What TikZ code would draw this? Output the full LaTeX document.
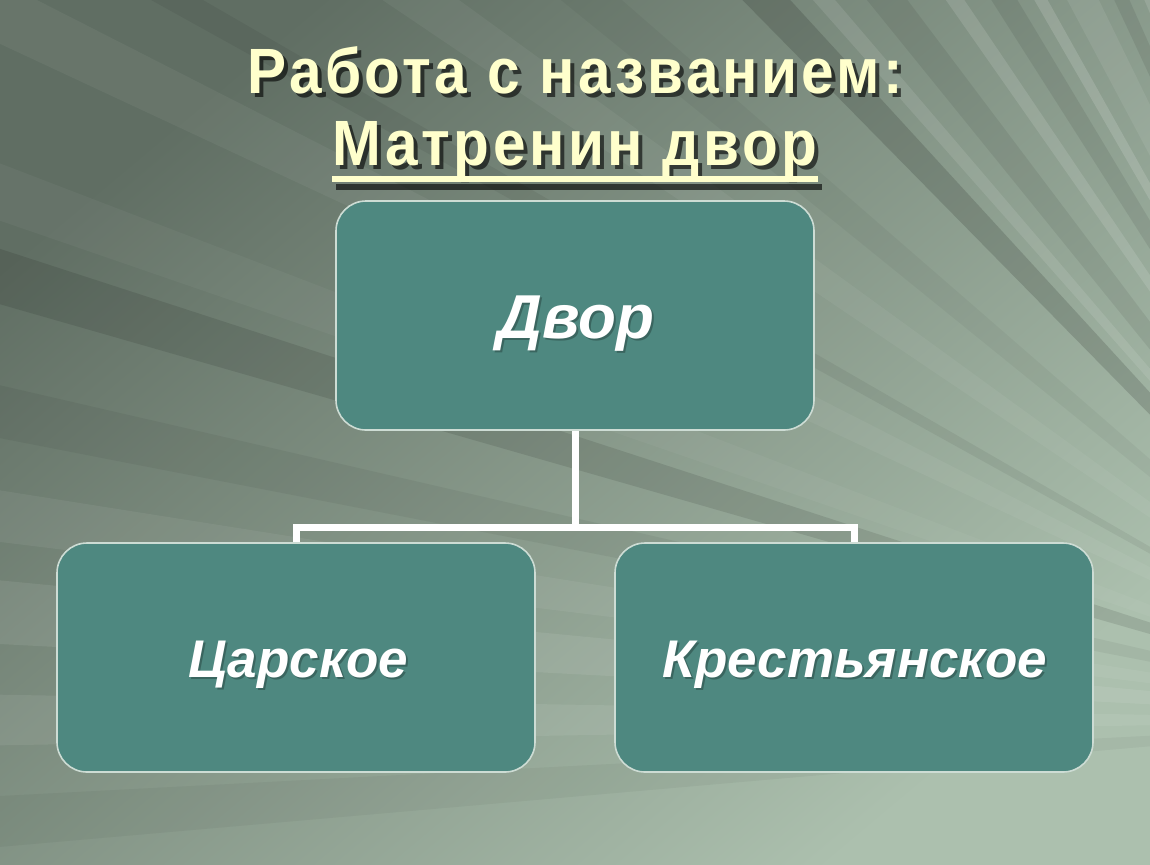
\documentclass[tikz,border=0pt]{standalone}
\usepackage{fontspec}
\setmainfont{Liberation Sans}
\usetikzlibrary{calc}
\definecolor{bgdark}{RGB}{96,110,99}
\definecolor{bglight}{RGB}{172,192,174}
\definecolor{boxfill}{RGB}{78,136,128}
\definecolor{boxline}{RGB}{205,220,212}
\definecolor{titlecol}{RGB}{255,255,204}
\newcommand{\headfont}{\fontsize{32}{36}\selectfont\bfseries\addfontfeature{LetterSpace=6}}
\tikzset{
  cell/.style={draw=boxline, line width=0.8pt, fill=boxfill, rounded corners=15pt,
    minimum width=239pt, minimum height=114.5pt, inner sep=0pt},
  celltext/.style={text=white, font=\fontsize{#1}{#1}\selectfont\bfseries\itshape, inner sep=0pt, anchor=base},
  cellshadow/.style={celltext=#1, text=black, opacity=0.25},
  heading/.style={text=titlecol, font=\headfont, xscale=0.915, inner sep=0pt, anchor=base},
  headshadow/.style={heading, text=black, opacity=0.6},
  link/.style={draw=white, line width=3.5pt}
}
\begin{document}
\begin{tikzpicture}[x=0.5pt, y=-0.5pt]
        \useasboundingbox (0,0) rectangle (1150,864);
        % background with rays
        \coordinate (sun) at (1450,720);
        \begin{scope}
          \clip (0,0) rectangle (1150,864);
          \shade [top color=bgdark, bottom color=bglight, shading angle=40] (0,0) rectangle (1150,864);
          \foreach \a/\b/\c/\o in {175/177/black/0.04, 179/181/white/0.07, 183/185.5/white/0.08,
              187/189/white/0.06, 191/193/black/0.05, 196/198/black/0.10, 199/201/white/0.04,
              205/207/white/0.05, 209/210/black/0.06, 214/216/white/0.05, 219/221/black/0.04,
              225.5/227.5/black/0.14, 228.5/229.5/white/0.10, 231/233/black/0.07,
              235/236/white/0.12, 237.5/239/black/0.08, 240/240.8/white/0.14, 242/244/white/0.08,
              245/246/black/0.08, 247/248/white/0.12, 249/250/white/0.08}{
            \fill [\c, opacity=\o] (sun) -- ($(sun)+(\a:2200)$) -- ($(sun)+(\b:2200)$) -- cycle;
          }
        \end{scope}
        % title
        \node [headshadow] at (579,97) {Работа с названием:};
        \node [heading] (head) at (575,93) {Работа с названием:};
        \node [headshadow] (subs) at (579,169) {Матренин двор};
        \node [heading] (sub) at (575,165) {Матренин двор};
        \draw [black, opacity=0.6, line width=3pt] ([yshift=-9pt]subs.base west) -- ([yshift=-9pt]subs.base east);
        \draw [titlecol, line width=3pt] ([yshift=-7pt]sub.base west) -- ([yshift=-7pt]sub.base east);
        % boxes
        \node [cell] (dvor) at (575,315.5) {};
        \node [cell] (tsar) at (296,657.5) {};
        \node [cell] (kres) at (854,657.5) {};
        \node [cellshadow=31] at (578,340) {Двор};
        \node [celltext=31] at (576,338) {Двор};
        \node [cellshadow=26.5] at (300,679) {Царское};
        \node [celltext=26.5] at (298,677) {Царское};
        \node [cellshadow=26.5] at (857,679) {Крестьянское};
        \node [celltext=26.5] at (855,677) {Крестьянское};
        % connectors
        \coordinate (bar) at (575,527);
        \draw [link] (dvor.south) -- (bar);
        \draw [link] (tsar.north) -- (tsar.north |- bar) -- (kres.north |- bar) -- (kres.north);
      \end{tikzpicture}
\end{document}
